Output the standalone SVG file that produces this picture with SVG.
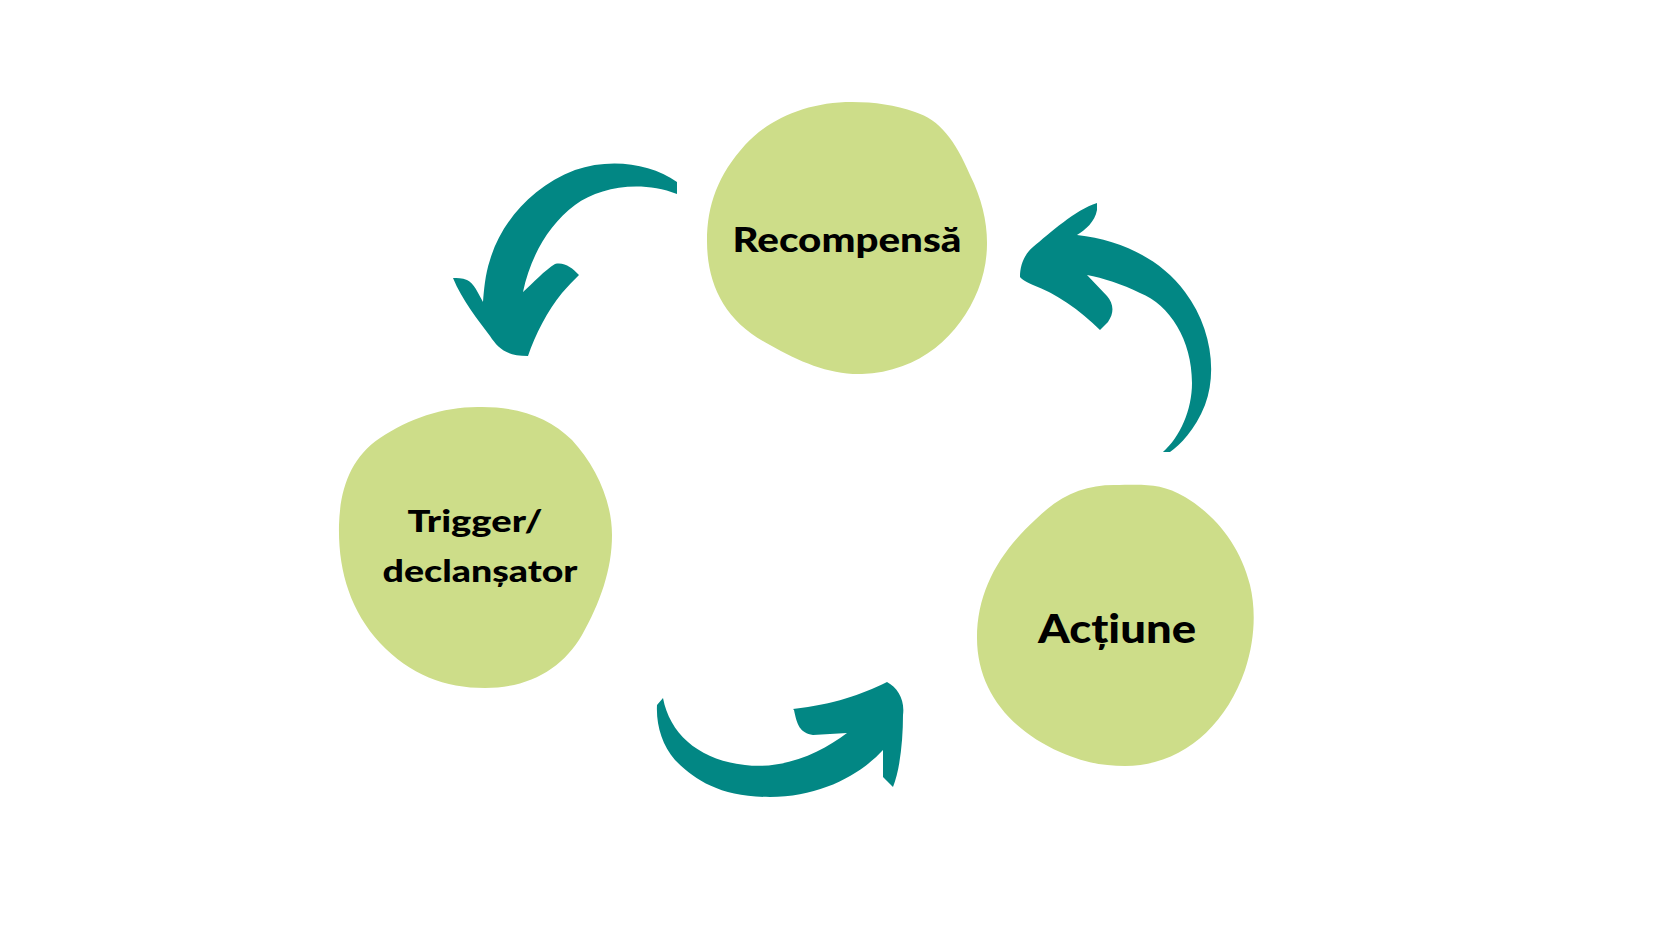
<svg xmlns="http://www.w3.org/2000/svg" width="1680" height="945" viewBox="0 0 1680 945">
<style>
.blob{fill:#cddd89}
.arrow{fill:#028784}
.lbl{font-family:Lato,"Noto Sans","DejaVu Sans",sans-serif;font-weight:900;fill:#000;text-anchor:middle}
</style>
<rect width="1680" height="945" fill="#fff"/>
<g id="connectors">
<path class="arrow" d="M 677,182 C 650,163 610,158 575,170 C 530,187 500,225 490,260 C 485,275 484,290 483,302 C 478,293 474,283 467,280 C 462,278 457,278 453,278 C 462,300 478,320 490,336 C 498,348 506,356 528,356 C 535,335 548,310 562,293 C 568,286 574,280 579,275 C 572,268 565,262 555,264 C 545,270 533,283 523,292 C 530,258 548,225 575,205 C 600,187 640,180 677,194 Z"/>
<path class="arrow" d="M 1163,452 C 1180,437 1192,410 1192,383 C 1192,340 1170,305 1140,293 C 1122,284 1103,278 1087,275 L 1107,296 C 1113,303 1115,312 1108,322 L 1100,330 C 1080,310 1055,293 1033,285 C 1027,282 1022,280 1020,277 C 1020,265 1024,255 1033,247 C 1050,233 1075,210 1097,203 L 1097,210 C 1095,222 1085,230 1077,235 C 1120,240 1160,258 1185,292 C 1210,325 1218,370 1205,405 C 1195,430 1180,445 1170,452 Z"/>
<path class="arrow" d="M 663,698 C 670,735 700,760 745,765 C 785,770 822,752 847,733 L 813,735 C 800,733 797,725 794,710 L 793,709 C 835,704 860,695 887,682 C 898,688 905,700 903,715 C 903,740 900,770 893,787 L 883,777 L 883,750 C 860,775 820,797 770,797 C 720,797 695,780 675,760 C 662,745 656,725 657,705 Z"/>
</g>
<g id="node-recompensa">
<path class="blob" d="M 852,102 C 808,102 770,118 745,145 C 718,175 707,205 707,241 C 707,285 725,322 770,345 C 800,362 830,375 862,374 C 920,372 960,335 978,290 C 992,255 990,215 970,175 C 955,140 940,120 915,112 C 895,105 875,102 852,102 Z"/>
<text class="lbl" x="847" y="252" font-size="35" textLength="229" lengthAdjust="spacingAndGlyphs">Recompensă</text>
</g>
<g id="node-trigger">
<path class="blob" d="M 482,407 C 445,406 410,418 380,438 C 350,458 340,490 339,525 C 338,570 350,610 380,643 C 410,675 445,688 485,688 C 530,688 563,668 582,635 C 600,603 612,570 612,535 C 612,500 595,465 572,440 C 550,418 520,407 482,407 Z"/>
<text class="lbl" x="475" y="532" font-size="31" textLength="135" lengthAdjust="spacingAndGlyphs">Trigger/</text>
<text class="lbl" x="480" y="582" font-size="31" textLength="195" lengthAdjust="spacingAndGlyphs">declanșator</text>
</g>
<g id="node-actiune">
<path class="blob" d="M 1114,485 C 1085,485 1060,495 1035,520 C 1000,552 977,590 977,638 C 977,690 1010,730 1060,752 C 1085,763 1105,766 1125,766 C 1180,766 1225,728 1245,670 C 1255,640 1256,610 1250,585 C 1240,545 1215,515 1185,497 C 1160,482 1140,485 1114,485 Z"/>
<text class="lbl" x="1117" y="643" font-size="39" textLength="158" lengthAdjust="spacingAndGlyphs">Acțiune</text>
</g>
</svg>
